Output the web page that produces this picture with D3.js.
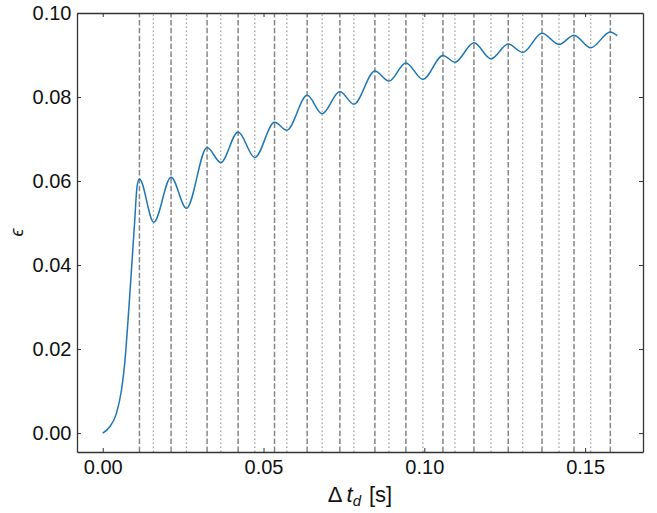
<!DOCTYPE html>
<html>
<head>
<meta charset="utf-8">
<script src="https://cdn.jsdelivr.net/npm/d3@7"></script>
<style>
  body { margin: 0; background: #fff; }
  text { font-family: "Liberation Sans", Arial, sans-serif; }
</style>
</head>
<body>
<script>
// curve (x in s, eps)
var tValues = [0, 0.00218, 0.00426, 0.00582, 0.00684, 0.00787, 0.00893, 0.00996, 0.01067,
  0.01142, 0.01587, 0.02125, 0.02604, 0.03245, 0.03671, 0.0421, 0.04729,
  0.05342, 0.05725, 0.06357, 0.06823, 0.07374, 0.0781, 0.08463, 0.08899,
  0.09427, 0.09956, 0.10579, 0.10952, 0.11543, 0.12072, 0.1261, 0.13059,
  0.13659, 0.14188, 0.14655, 0.15174, 0.15784, 0.16];
var epsValues = [0, 0.0015, 0.0047, 0.0102, 0.0166, 0.0269, 0.0388, 0.0507, 0.0587,
  0.0605, 0.0502, 0.0609, 0.0535, 0.0680, 0.0644, 0.0717, 0.0656,
  0.0740, 0.0721, 0.0804, 0.0760, 0.0813, 0.0783, 0.0862, 0.0838,
  0.0881, 0.0842, 0.0899, 0.0883, 0.0929, 0.0891, 0.0926, 0.0906,
  0.0952, 0.0925, 0.0947, 0.0917, 0.0955, 0.0946];

// vertical markers: dashed at the peaks, dotted at the troughs
var peakTimes = [0.01142, 0.02125, 0.03245, 0.0421, 0.05342, 0.06357, 0.07374,
  0.08463, 0.09427, 0.10579, 0.11543, 0.1261, 0.13659, 0.14655, 0.15784];
var troughTimes = [0.01577, 0.02604, 0.03671, 0.04729, 0.05725, 0.06823, 0.0781,
  0.08899, 0.09956, 0.10952, 0.12072, 0.13059, 0.14188, 0.15174];

var xTicks = [0, 0.05, 0.10, 0.15];
var yTicks = [0, 0.02, 0.04, 0.06, 0.08, 0.10];

var width = 657, height = 513;
var margin = {top: 13, right: 14, bottom: 61, left: 77};

var x = d3.scaleLinear().domain([-0.008, 0.168]).range([margin.left, width - margin.right]);
var y = d3.scaleLinear().domain([-0.0045, 0.1]).range([height - margin.bottom, margin.top]);

var svg = d3.select("body").append("svg")
    .attr("width", width)
    .attr("height", height);

var data = tValues.map(function(t, i) { return [t, epsValues[i]]; });

// marker lines
svg.append("g").selectAll("line")
    .data(peakTimes)
  .enter().append("line")
    .attr("x1", function(d) { return x(d); })
    .attr("x2", function(d) { return x(d); })
    .attr("y1", y.range()[0])
    .attr("y2", y.range()[1])
    .style("stroke", "#868686")
    .style("stroke-width", 1.5)
    .style("stroke-dasharray", "5.5,2.4");

svg.append("g").selectAll("line")
    .data(troughTimes)
  .enter().append("line")
    .attr("x1", function(d) { return x(d); })
    .attr("x2", function(d) { return x(d); })
    .attr("y1", y.range()[0])
    .attr("y2", y.range()[1])
    .style("stroke", "#a4a4a4")
    .style("stroke-width", 1.3)
    .style("stroke-dasharray", "1.5,2.5");

var line = d3.line()
    .x(function(d) { return x(d[0]); })
    .y(function(d) { return y(d[1]); })
    .curve(d3.curveMonotoneX);

svg.append("path")
    .datum(data)
    .attr("d", line)
    .style("fill", "none")
    .style("stroke", "#1f77b4")
    .style("stroke-width", 1.5);

// axes, ticks pointing inward on all four sides
var fmt = d3.format(".2f");
var axBottom = svg.append("g")
    .attr("transform", "translate(0," + y.range()[0] + ")")
    .call(d3.axisBottom(x).tickValues(xTicks).tickFormat(fmt).tickSizeInner(-4).tickSizeOuter(0).tickPadding(8));
var axTop = svg.append("g")
    .attr("transform", "translate(0," + y.range()[1] + ")")
    .call(d3.axisTop(x).tickValues(xTicks).tickFormat("").tickSizeInner(-4).tickSizeOuter(0));
var axLeft = svg.append("g")
    .attr("transform", "translate(" + x.range()[0] + ",0)")
    .call(d3.axisLeft(y).tickValues(yTicks).tickFormat(fmt).tickSizeInner(-4).tickSizeOuter(0).tickPadding(5.5));
var axRight = svg.append("g")
    .attr("transform", "translate(" + x.range()[1] + ",0)")
    .call(d3.axisRight(y).tickValues(yTicks).tickFormat("").tickSizeInner(-4).tickSizeOuter(0));

[axBottom, axTop, axLeft, axRight].forEach(function(g) {
  g.select(".domain").style("stroke", "#333").style("stroke-width", 1.3);
  g.selectAll(".tick line").style("stroke", "#333").style("stroke-width", 1);
  g.selectAll("text")
    .style("font-family", "'Liberation Sans', Arial, sans-serif")
    .style("font-size", "20px")
    .style("fill", "#111");
});

// axis labels
var xl = svg.append("text")
    .attr("x", (x.range()[0] + x.range()[1]) / 2)
    .attr("y", 502)
    .attr("text-anchor", "middle")
    .style("font-size", "22px")
    .style("fill", "#111");
xl.append("tspan").text("Δ");
xl.append("tspan").attr("dx", 4).style("font-style", "italic").text("t");
xl.append("tspan").attr("dy", 4).style("font-style", "italic").style("font-size", "15px").text("d");
xl.append("tspan").attr("dy", -4).attr("dx", 8).text("[s]");

svg.append("text")
    .attr("transform", "translate(23," + (y.range()[0] + y.range()[1]) / 2 + ") rotate(-90)")
    .attr("text-anchor", "middle")
    .style("font-size", "18px")
    .style("font-style", "italic")
    .style("fill", "#111")
    .text("ϵ");
</script>
</body>
</html>
